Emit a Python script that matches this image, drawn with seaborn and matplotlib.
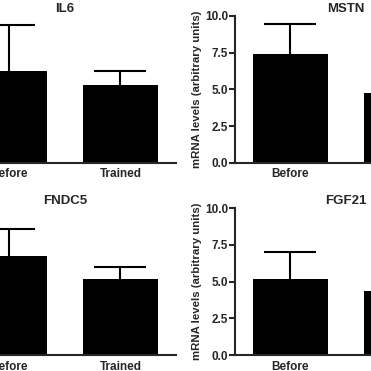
import matplotlib
matplotlib.use("Agg")
import matplotlib.pyplot as plt
import seaborn as sns

# Group labels and mean / SEM (arbitrary units)
groups = ["Before", "Trained"]
panels = ["IL6", "MSTN", "FNDC5", "FGF21"]
means = {
    "IL6": [6.26, 5.30],
    "MSTN": [7.41, 4.78],
    "FNDC5": [6.77, 5.15],
    "FGF21": [5.16, 4.38],
}
sems = {
    "IL6": [3.14, 0.96],
    "MSTN": [2.07, 0.90],
    "FNDC5": [1.79, 0.82],
    "FGF21": [1.84, 0.75],
}

sns.set_style("ticks")
plt.rcParams["font.family"] = ["Liberation Sans", "DejaVu Sans"]
plt.rcParams["font.weight"] = "bold"

fig = plt.figure(figsize=(3.71, 3.71), dpi=100)

# axes boxes (figure fraction); the source figure is cropped on both sides
boxes = {
    "IL6": [-0.124, 0.561, 0.598, 0.396],
    "MSTN": [0.633, 0.561, 0.598, 0.396],
    "FNDC5": [-0.124, 0.043, 0.598, 0.396],
    "FGF21": [0.633, 0.043, 0.598, 0.396],
}

for name in panels:
    ax = fig.add_axes(boxes[name])
    sns.barplot(x=groups, y=means[name], color="black", saturation=1,
                width=0.68, edgecolor="black", linewidth=0, ax=ax)
    eb = ax.errorbar(x=[0, 1], y=means[name], yerr=[[0, 0], sems[name]],
                     fmt="none", ecolor="black", elinewidth=1.5, capsize=19,
                     capthick=1.5, zorder=1)
    # only the upper whisker, as in the original
    eb[1][0].set_visible(False)
    ax.set_xlim(-0.5, 1.5)
    ax.set_ylim(0, 10)
    ax.set_yticks([0, 2.5, 5, 7.5, 10])
    ax.set_yticklabels(["0.0", "2.5", "5.0", "7.5", "10.0"],
                       fontsize=8.5, fontweight="bold")
    ax.set_xticks([0, 1])
    ax.set_xticklabels(groups, fontsize=8.5, fontweight="bold")
    ax.tick_params(axis="x", length=0, pad=4)
    ax.tick_params(axis="y", length=4, width=1.5, pad=1)
    ax.set_ylabel("mRNA levels (arbitrary units)", fontsize=8.2,
                  fontweight="bold", labelpad=2)
    ax.set_title(name, fontsize=9.5, fontweight="bold", pad=3)
    for s in ["left", "bottom"]:
        ax.spines[s].set_linewidth(1.5)
    sns.despine(ax=ax)

fig.savefig("out.png", dpi=100)
